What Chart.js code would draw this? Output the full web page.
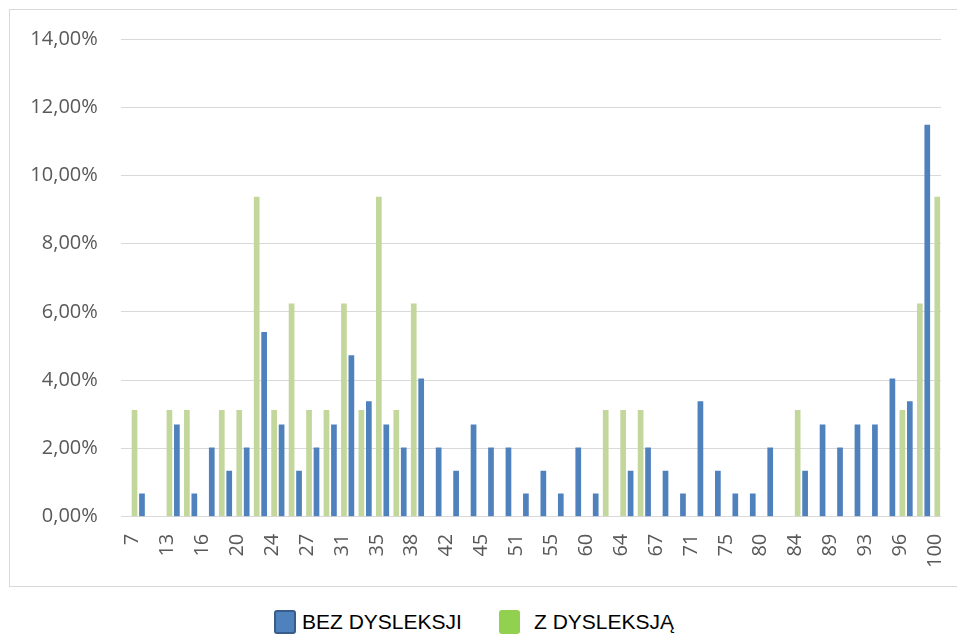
<!DOCTYPE html>
<html lang="pl">
<head>
  <meta charset="UTF-8" />
  <title>Wyniki: bez dysleksji / z dysleksją</title>
  <script src="https://cdn.jsdelivr.net/npm/chart.js"></script>
  <style>
    html, body {
      margin: 0;
      padding: 0;
      background: #ffffff;
      overflow: hidden;
    }
    #frame {
      position: absolute;
      left: 9px;
      top: 9px;
      width: 980px;
      height: 576px;
      border: 1px solid #d9d9d9;
    }
    #myChart {
      position: absolute;
      left: 0;
      top: 0;
    }
    .legend-item {
      position: absolute;
      top: 610px;
      height: 24px;
      font-family: "Liberation Sans", Arial, sans-serif;
      font-size: 21px;
      line-height: 24px;
      color: #000000;
      white-space: nowrap;
    }
    .legend-box {
      position: absolute;
      top: 0;
      border-radius: 3px;
    }
  </style>
</head>
<body>

<div id="frame"></div>
<canvas id="myChart" width="957" height="600"></canvas>

<div class="legend-item" style="left:274px;">
  <span class="legend-box" style="left:0;width:18px;height:20px;background:#4f81bd;border:2px solid #385d8a;"></span>
  <span style="position:absolute;left:28px;top:0;" id="legend0"></span>
</div>
<div class="legend-item" style="left:499px;">
  <span class="legend-box" style="left:0;width:21px;height:24px;background:#92d050;"></span>
  <span style="position:absolute;left:35px;top:0;" id="legend1"></span>
</div>

<script>
  // series names
  const seriesNames = ['BEZ DYSLEKSJI', 'Z DYSLEKSJĄ'];

  // labels shown on the x axis (every second category is labelled)
  const shownLabels = ['7', '13', '16', '20', '24', '27', '31', '35', '38', '42', '45', '51',
                       '55', '60', '64', '67', '71', '75', '80', '84', '89', '93', '96', '100'];

  // percentage of pupils per score, 47 categories
  const bezDysleksji = [
    0, 0.68, 0, 2.70, 0.68, 2.03, 1.35, 2.03, 5.41, 2.70,
    1.35, 2.03, 2.70, 4.73, 3.38, 2.70, 2.03, 4.05, 2.03, 1.35,
    2.70, 2.03, 2.03, 0.68, 1.35, 0.68, 2.03, 0.68, 0, 1.35,
    2.03, 1.35, 0.68, 3.38, 1.35, 0.68, 0.68, 2.03, 0, 1.35,
    2.70, 2.03, 2.70, 2.70, 4.05, 3.38, 11.49
  ];
  const zDysleksja = [
    3.13, 0, 3.13, 3.13, 0, 3.13, 3.13, 9.38, 3.13, 6.25,
    3.13, 3.13, 6.25, 3.13, 9.38, 3.13, 6.25, 0, 0, 0,
    0, 0, 0, 0, 0, 0, 0, 3.13, 3.13, 3.13,
    0, 0, 0, 0, 0, 0, 0, 0, 3.13, 0,
    0, 0, 0, 0, 3.13, 6.25, 9.38
  ];

  const yTicks = [0, 2, 4, 6, 8, 10, 12, 14];

  // build 47 categories, labelled on even positions only
  const categories = bezDysleksji.map((_, i) => (i % 2 === 0 ? shownLabels[i / 2] : ''));

  document.getElementById('legend0').textContent = seriesNames[0];
  document.getElementById('legend1').textContent = seriesNames[1];

  const tickFont = { family: '"Open Sans", sans-serif', size: 20 };

  const ctx = document.getElementById('myChart').getContext('2d');

  new Chart(ctx, {
    type: 'bar',
    data: {
      labels: categories,
      datasets: [
        {
          label: seriesNames[0],
          data: bezDysleksji,
          backgroundColor: '#4f81bd',
          borderWidth: 0
        },
        {
          label: seriesNames[1],
          data: zDysleksja,
          backgroundColor: '#c3d69b',
          borderWidth: 0
        }
      ]
    },
    options: {
      responsive: false,
      animation: false,
      devicePixelRatio: 1,
      categoryPercentage: 1.146,
      barPercentage: 0.57,
      layout: {
        padding: { left: 0, right: 16, top: 39, bottom: 0 }
      },
      scales: {
        x: {
          grid: { display: false, drawTicks: false },
          border: { display: false },
          ticks: {
            autoSkip: false,
            minRotation: 90,
            maxRotation: 90,
            padding: 17,
            labelOffset: 3,
            color: '#595959',
            font: tickFont
          },
          afterFit: scale => {
            scale.height = 600 - 516.7;
            scale.paddingLeft = 0;
            scale.paddingRight = 0;
          }
        },
        y: {
          min: 0,
          max: 14,
          afterBuildTicks: scale => { scale.ticks = yTicks.map(v => ({ value: v })); },
          grid: { color: '#d9d9d9', lineWidth: 1, drawTicks: false },
          border: { display: false },
          ticks: {
            padding: 23,
            color: '#595959',
            font: tickFont,
            callback: v => v.toFixed(2).replace('.', ',') + '%'
          },
          afterFit: scale => { scale.width = 120.8; }
        }
      },
      plugins: {
        legend: { display: false },
        tooltip: { enabled: false }
      }
    }
  });
</script>

</body>
</html>
